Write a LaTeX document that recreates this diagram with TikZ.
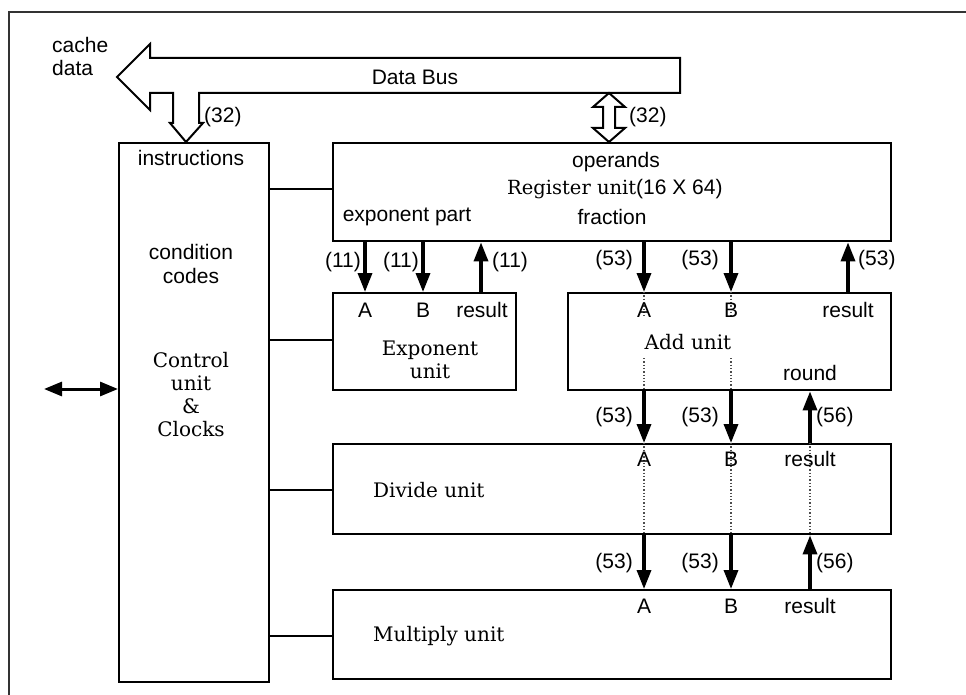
\documentclass[tikz,border=0pt]{standalone}
\usepackage{fontspec}
\setmainfont{DejaVu Serif}
\setsansfont{Liberation Sans}
\usetikzlibrary{arrows.meta}
\tikzset{
  px/.style={x=1pt,y=-1pt},
  box/.style={draw,line width=2.4pt,anchor=north west,inner sep=0pt},
  sf/.style={font=\sffamily\fontsize{21}{25}\selectfont,inner sep=0pt},
  sr/.style={font=\rmfamily\fontsize{20}{25}\selectfont,inner sep=0pt,align=center},
  arr/.style={line width=3.4pt,-{Triangle[length=19pt,width=14pt]}},
  link/.style={line width=2pt},
  dot/.style={line width=1.3pt,dotted,black!70},
  bus/.style={line width=2pt,line join=miter}
}
\begin{document}
\begin{tikzpicture}[px]
\useasboundingbox (0,0) rectangle (966,695);
% outer frame
\draw[line width=1.6pt,black!80] (9,695) -- (9,12) -- (966,12);

% boxes
\node[box,minimum width=150pt,minimum height=539pt] (ctl) at (118,142) {};
\node[box,minimum width=558pt,minimum height=98pt] (reg) at (332,142) {};
\node[box,minimum width=183pt,minimum height=97pt] (exp) at (332,292) {};
\node[box,minimum width=323pt,minimum height=97pt] (add) at (567,292) {};
\node[box,minimum width=558pt,minimum height=90pt] (div) at (332,443) {};
\node[box,minimum width=558pt,minimum height=89pt] (mul) at (332,589) {};

% column coordinates
\coordinate (xeA) at (365,0);
\coordinate (xeB) at (423,0);
\coordinate (xeR) at (481,0);
\coordinate (xA) at (644,0);
\coordinate (xB) at (731,0);
\coordinate (xR) at (848,0);
\coordinate (xS) at (810,0);

% data bus
\draw[bus] (117,77) -- (150,44) -- (150,58) -- (680,58) -- (680,93)
  -- (199,93) -- (199,123) -- (203,123) -- (186,142) -- (170,123) -- (173,123)
  -- (173,93) -- (150,93) -- (150,110) -- cycle;
\draw[bus] (609,93) -- (625,107) -- (615,107) -- (615,128) -- (625,128)
  -- (609,142) -- (593,128) -- (603,128) -- (603,107) -- (593,107) -- cycle;
\node[sf] (databus) at (415,77) {Data Bus};
\node[sf,anchor=west] (cache) at (52,45) {cache};
\node[sf,anchor=west] (data) at (52,68) {data};
\node[sf,anchor=west] (b32a) at (204,117) {(32)};
\node[sf,anchor=west] (b32b) at (629,117) {(32)};

% control texts
\node[sf] (instr) at (191,158) {instructions};
\node[sf] (cond) at (191,252) {condition};
\node[sf] (codes) at (191,276) {codes};
\node[sr] (cu) at (191,395) {Control\\[-2pt]unit\\[-2pt]\&\\[-2pt]Clocks};

% register texts
\node[sf] (oper) at (616,162) {operands};
\node[anchor=west,inner sep=0pt] (regname) at (507,189) {\rmfamily\fontsize{19.5}{25}\selectfont Register unit\sffamily\fontsize{21}{25}\selectfont(16 X 64)};
\node[sf] (exppart) at (407,217) {exponent part};
\node[sf] (frac) at (612,217) {fraction};

% exponent unit texts
\node[sf] (eA) at (xeA |- 0,310) {A};
\node[sf] (eB) at (xeB |- 0,310) {B};
\node[sf] (eR) at (482,310) {result};
\node[sr] (expname) at (430,360) {Exponent\\[-2pt]unit};

% add unit texts
\draw[dot] (add.north -| xA) -- (644,318);
\draw[dot] (add.north -| xB) -- (731,318);
\draw[dot] (644,358) -- (add.south -| xA);
\draw[dot] (731,358) -- (add.south -| xB);
\node[sf] (aA) at (xA |- 0,310) {A};
\node[sf] (aB) at (xB |- 0,310) {B};
\node[sf] (aR) at (xR |- 0,310) {result};
\node[sr] (addname) at (688,342) {Add unit};
\node[sf] (round) at (xS |- 0,373) {round};

% divide unit texts
\draw[dot] (div.north -| xA) -- (div.south -| xA);
\draw[dot] (div.north -| xB) -- (div.south -| xB);
\draw[dot] (div.north -| xS) -- (div.south -| xS);
\node[sf] (dA) at (xA |- 0,459) {A};
\node[sf] (dB) at (xB |- 0,459) {B};
\node[sf] (dR) at (xS |- 0,459) {result};
\node[sr,anchor=west] (divname) at (373,490) {Divide unit};

% multiply unit texts
\node[sf] (mA) at (xA |- 0,606) {A};
\node[sf] (mB) at (xB |- 0,606) {B};
\node[sf] (mR) at (xS |- 0,606) {result};
\node[sr,anchor=west] (mulname) at (373,636) {Multiply unit};

% control links
\draw[link] (ctl.east |- 0,189) -- (reg.west |- 0,189);
\draw[link] (ctl.east |- 0,340) -- (exp.west |- 0,340);
\draw[link] (ctl.east |- 0,490) -- (div.west |- 0,490);
\draw[link] (ctl.east |- 0,636) -- (mul.west |- 0,636);
\coordinate (ext) at (44,389);
\draw[line width=3pt,{Triangle[length=18pt,width=14pt]}-{Triangle[length=18pt,width=14pt]}] (ext) -- (ctl.west |- ext);

% register <-> exponent
\draw[arr] (reg.south -| xeA) -- (exp.north -| xeA);
\draw[arr] (reg.south -| xeB) -- (exp.north -| xeB);
\draw[arr] (exp.north -| xeR) -- (reg.south -| xeR);
\node[sf,anchor=east] at (361,262) {(11)};
\node[sf,anchor=east] at (419,262) {(11)};
\node[sf,anchor=west] at (492,262) {(11)};

% register <-> add
\draw[arr] (reg.south -| xA) -- (add.north -| xA);
\draw[arr] (reg.south -| xB) -- (add.north -| xB);
\draw[arr] (add.north -| xR) -- (reg.south -| xR);
\node[sf,anchor=east] at (633,260) {(53)};
\node[sf,anchor=east] at (719,260) {(53)};
\node[sf,anchor=west] at (858,260) {(53)};

% add <-> divide
\draw[arr] (add.south -| xA) -- (div.north -| xA);
\draw[arr] (add.south -| xB) -- (div.north -| xB);
\draw[arr] (div.north -| xS) -- (add.south -| xS);
\node[sf,anchor=east] at (633,417) {(53)};
\node[sf,anchor=east] at (719,417) {(53)};
\node[sf,anchor=west] at (816,417) {(56)};

% divide <-> multiply
\draw[arr] (div.south -| xA) -- (mul.north -| xA);
\draw[arr] (div.south -| xB) -- (mul.north -| xB);
\draw[arr] (mul.north -| xS) -- (div.south -| xS);
\node[sf,anchor=east] at (633,563) {(53)};
\node[sf,anchor=east] at (719,563) {(53)};
\node[sf,anchor=west] at (816,563) {(56)};
\end{tikzpicture}
\end{document}
